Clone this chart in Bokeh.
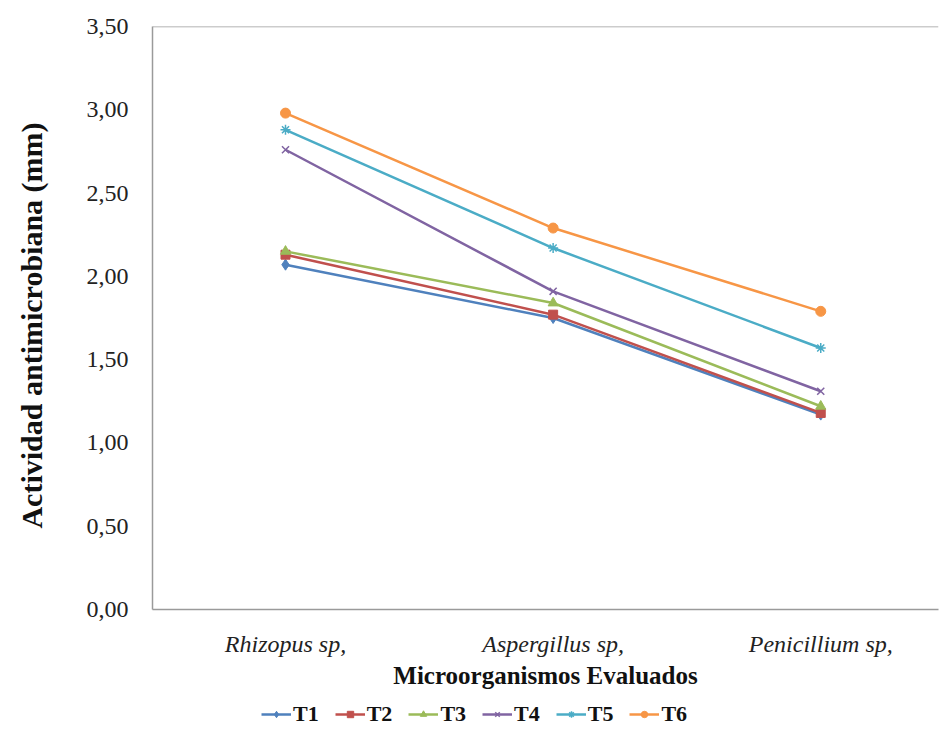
from bokeh.plotting import figure
from bokeh.layouts import column
from bokeh.models import Range1d, Legend, LegendItem, Span, FixedTicker
from bokeh.embed import file_html
from bokeh.resources import INLINE

categories = ["Rhizopus sp,", "Aspergillus sp,", "Penicillium sp,"]
series_names = ["T1", "T2", "T3", "T4", "T5", "T6"]
t1 = [2.07, 1.75, 1.17]
t2 = [2.13, 1.77, 1.18]
t3 = [2.15, 1.84, 1.22]
t4 = [2.76, 1.91, 1.31]
t5 = [2.88, 2.17, 1.57]
t6 = [2.98, 2.29, 1.79]
y_ticks = [0.0, 0.5, 1.0, 1.5, 2.0, 2.5, 3.0, 3.5]
y_tick_labels = ["0,00", "0,50", "1,00", "1,50", "2,00", "2,50", "3,00", "3,50"]

series = [t1, t2, t3, t4, t5, t6]
colors = ["#4F81BD", "#C0504D", "#9BBB59", "#8064A2", "#4BACC6", "#F79646"]
markers = ["diamond", "square", "triangle", "x", "asterisk", "circle"]
msizes = [11, 9, 10, 10, 10, 10]

FONT = "Liberation Serif"
xs = list(range(len(categories)))


def draw(fig, xv, yv, c, m, s):
    r1 = fig.line(xv, yv, line_color=c, line_width=2.5)
    if m in ("x", "asterisk"):
        r2 = fig.scatter(xv, yv, marker=m, size=s, line_color=c, line_width=1.5)
    else:
        r2 = fig.scatter(xv, yv, marker=m, size=s, fill_color=c, line_color=c)
    return r1, r2


p = figure(frame_width=786, frame_height=583, x_range=Range1d(-0.497, 2.44), y_range=Range1d(0, 3.5),
           output_backend="svg", toolbar_location=None,
           min_border_left=152, min_border_top=26, min_border_right=1, min_border_bottom=2)
p.outline_line_color = None
p.grid.visible = False
p.background_fill_color = "white"

for name, vals, c, m, s in zip(series_names, series, colors, markers, msizes):
    draw(p, xs, vals, c, m, s)

top = Span(location=3.5, dimension="width", line_color="#9a9a9a", line_width=1.5)
p.add_layout(top)

# y axis
p.yaxis.ticker = FixedTicker(ticks=y_ticks)
p.yaxis.major_label_overrides = {t: l for t, l in zip(y_ticks, y_tick_labels)}
p.yaxis.major_tick_line_color = None
p.yaxis.minor_tick_line_color = None
p.yaxis.axis_line_color = "#9a9a9a"
p.yaxis.axis_line_width = 1.5
p.yaxis.major_label_text_font = FONT
p.yaxis.major_label_text_font_size = "24px"
p.yaxis.major_label_text_color = "#222222"
p.yaxis.major_label_standoff = 18
p.yaxis.axis_label = "Actividad  antimicrobiana  (mm)"
p.yaxis.axis_label_text_font = FONT
p.yaxis.axis_label_text_font_size = "30px"
p.yaxis.axis_label_text_font_style = "bold"
p.yaxis.axis_label_text_color = "#111111"
p.yaxis.axis_label_standoff = 36

# x axis
p.xaxis.ticker = FixedTicker(ticks=xs)
p.xaxis.major_label_overrides = {i: c for i, c in zip(xs, categories)}
p.xaxis.major_tick_line_color = None
p.xaxis.minor_tick_line_color = None
p.xaxis.axis_line_color = "#9a9a9a"
p.xaxis.axis_line_width = 1.5
p.xaxis.major_label_text_font = FONT
p.xaxis.major_label_text_font_size = "24px"
p.xaxis.major_label_text_font_style = "italic"
p.xaxis.major_label_text_color = "#222222"
p.xaxis.major_label_standoff = 15
p.xaxis.axis_label = "Microorganismos Evaluados"
p.xaxis.axis_label_text_font = FONT
p.xaxis.axis_label_text_font_size = "25px"
p.xaxis.axis_label_text_font_style = "bold"
p.xaxis.axis_label_text_color = "#111111"
p.xaxis.axis_label_standoff = 2

# legend strip below the chart (series drawn off-view so only legend shows)
lg = figure(width=939, height=42, x_range=Range1d(0, 1), y_range=Range1d(100, 101),
            output_backend="svg", toolbar_location=None, min_border=0)
lg.axis.visible = False
lg.grid.visible = False
lg.outline_line_color = None
items = []
for name, vals, c, m, s in zip(series_names, series, colors, markers, msizes):
    r1, r2 = draw(lg, xs, vals, c, m, s)
    items.append(LegendItem(label=name, renderers=[r1, r2]))
legend = Legend(items=items, orientation="horizontal", location=(109, 6),
                label_text_font=FONT, label_text_font_size="22px",
                label_text_font_style="bold", label_text_color="#111111",
                glyph_width=30, glyph_height=16, spacing=16, label_standoff=2,
                padding=2, margin=0, border_line_color=None, background_fill_alpha=0)
lg.add_layout(legend)

layout = column(p, lg, spacing=0)
open("out.html", "w").write(file_html(layout, INLINE))
